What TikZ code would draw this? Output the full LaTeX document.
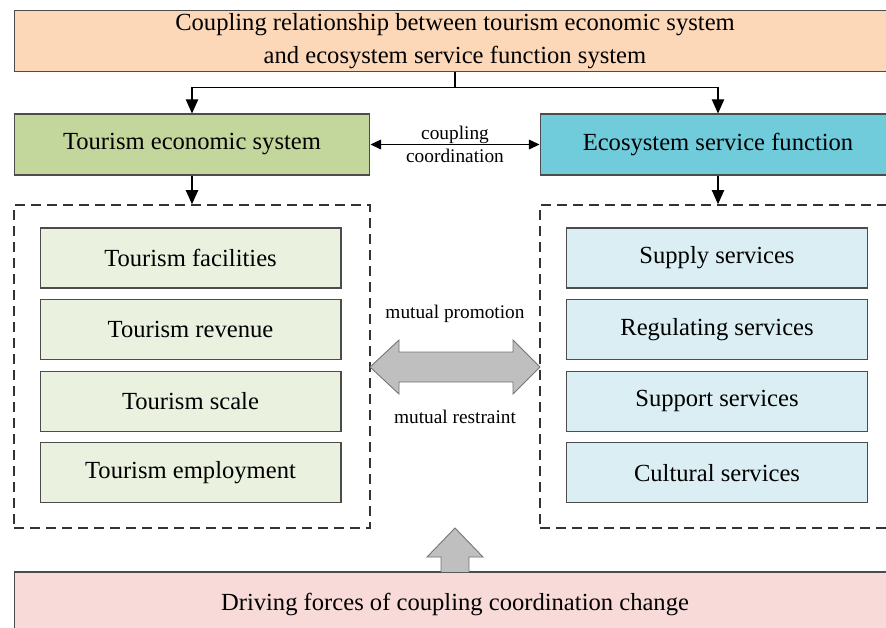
\documentclass[tikz,border=0pt]{standalone}
\usepackage{fontspec}
\setmainfont{Liberation Serif}
\usepackage{tikz}
\usetikzlibrary{
  positioning,
  arrows.meta
}

\definecolor{toporange}{RGB}{252,216,185}
\definecolor{tesgreen}{RGB}{195,214,155}
\definecolor{esfblue}{RGB}{112,204,218}
\definecolor{itemgreen}{RGB}{234,241,222}
\definecolor{itemblue}{RGB}{218,238,243}
\definecolor{drivepink}{RGB}{248,219,217}

\tikzstyle{sysbox}=[draw=black!70, line width=0.6pt, align=center, inner sep=0pt, font=\fontsize{14}{18.5}\selectfont]
\tikzstyle{subbox}=[sysbox, minimum width=6.02cm, minimum height=1.2cm]
\tikzstyle{groupbox}=[draw=black!80, line width=0.9pt, dash pattern=on 0.2cm off 0.12cm, minimum width=7.12cm, minimum height=6.46cm, inner sep=0pt]
\tikzstyle{flow}=[-{Triangle[width=7pt,length=8pt]}, line width=0.6pt]
\tikzstyle{couple}=[{Triangle[width=5.5pt,length=6pt]}-{Triangle[width=5.5pt,length=6pt]}, line width=0.6pt]
\tikzstyle{small}=[font=\fontsize{11}{13}\selectfont]
\tikzstyle{bigarrow}=[draw=black!55, fill=black!25, line width=0.5pt]

\begin{document}
\begin{tikzpicture}[x=0.02cm, y=-0.02cm]
    \useasboundingbox (0,0) rectangle (886,627);

    % 上段のボックス
    \node[sysbox, fill=toporange, minimum width=17.64cm, minimum height=1.22cm] (top) at (455,41)
      {Coupling relationship between tourism economic system\\and ecosystem service function system};

    % 二つのシステム
    \node[sysbox, fill=tesgreen, minimum width=7.12cm, minimum height=1.22cm] (tes) at (192,144.5) {Tourism economic system};
    \node[sysbox, fill=esfblue, minimum width=7.12cm, minimum height=1.22cm] (esf) at (718,144.5) {Ecosystem service function};

    \draw[line width=0.6pt] (top.south) -- ++(0,15) coordinate (split);
    \draw[flow] (split) -| (tes.north);
    \draw[flow] (split) -| (esf.north);
    \draw[couple] (tes) -- (esf)
      node[midway, above=-3pt, small] {coupling}
      node[midway, below=-1pt, small] {coordination};

    % 破線の枠
    \node[groupbox] (lgroup) at (192,366.5) {};
    \node[groupbox] (rgroup) at (718,366.5) {};
    \draw[flow] (tes.south) -- (lgroup.north);
    \draw[flow] (esf.south) -- (rgroup.north);

    % 観光経済の要素
    \node[subbox, fill=itemgreen] (tf) at (190.5,258) {Tourism facilities};
    \node[subbox, fill=itemgreen, below=0.21cm of tf] (tr) {Tourism revenue};
    \node[subbox, fill=itemgreen, below=0.21cm of tr] (ts) {Tourism scale};
    \node[subbox, fill=itemgreen, below=0.21cm of ts] (te) {Tourism employment};

    % 生態系サービスの要素
    \node[subbox, fill=itemblue] (ss) at (717,258) {Supply services};
    \node[subbox, fill=itemblue, below=0.21cm of ss] (rs) {Regulating services};
    \node[subbox, fill=itemblue, below=0.21cm of rs] (sp) {Support services};
    \node[subbox, fill=itemblue, below=0.21cm of sp] (cs) {Cultural services};

    % 相互作用の矢印
    \draw[bigarrow] (370,367) -- (399,340) -- (399,352) -- (513,352) -- (513,340) -- (540,367)
      -- (513,394) -- (513,382) -- (399,382) -- (399,394) -- cycle;
    \node[small] (promo) at (455,314) {mutual promotion};
    \node[small] (restr) at (455,417) {mutual restraint};

    % 下段のボックス
    \node[sysbox, fill=drivepink, minimum width=17.64cm, minimum height=1.28cm] (drive) at (455,604)
      {Driving forces of coupling coordination change};
    \draw[bigarrow] (441,572) -- (441,557) -- (427,557) -- (455,528) -- (483,557) -- (469,557) -- (469,572);
\end{tikzpicture}
\end{document}
